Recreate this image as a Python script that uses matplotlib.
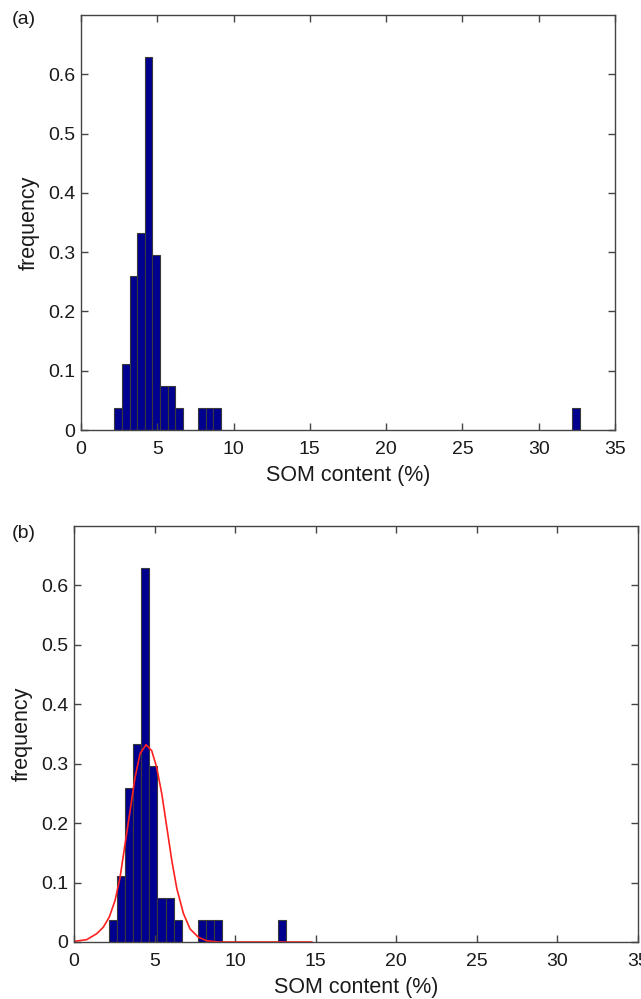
import numpy as np
import matplotlib
matplotlib.use("Agg")
import matplotlib.pyplot as plt

plt.rcParams['font.family'] = ['Liberation Sans', 'DejaVu Sans']

# Histogram bins (left edges, width 0.5) and density heights
bin_width = 0.5
bin_left_a = [2.18, 2.68, 3.18, 3.68, 4.18, 4.68, 5.18, 5.68, 6.18,
              7.68, 8.18, 8.68, 32.18]
freq_a = [0.037, 0.111, 0.259, 0.333, 0.630, 0.296, 0.074, 0.074, 0.037,
          0.037, 0.037, 0.037, 0.037]

bin_left_b = [2.18, 2.68, 3.18, 3.68, 4.18, 4.68, 5.18, 5.68, 6.18,
              7.68, 8.18, 8.68, 12.68]
freq_b = [0.037, 0.111, 0.259, 0.333, 0.630, 0.296, 0.074, 0.074, 0.037,
          0.037, 0.037, 0.037, 0.037]

# Fitted normal curve
curve_x = [0.0, 0.79, 1.41, 1.82, 2.19, 2.55, 2.86, 3.17, 3.48, 3.79, 4.10,
           4.47, 4.82, 5.13, 5.45, 5.76, 6.07, 6.38, 6.79, 7.20, 7.72, 8.24,
           9.0, 10.0, 12.0, 14.76]
curve_y = [0.001, 0.004, 0.014, 0.025, 0.042, 0.070, 0.109, 0.165, 0.221,
           0.277, 0.317, 0.332, 0.322, 0.294, 0.249, 0.193, 0.137, 0.090,
           0.048, 0.022, 0.008, 0.002, 0.0, 0.0, 0.0, 0.0]

xticks = [0, 5, 10, 15, 20, 25, 30, 35]
yticks = [0, 0.1, 0.2, 0.3, 0.4, 0.5, 0.6]
ytick_labels = ['0', '0.1', '0.2', '0.3', '0.4', '0.5', '0.6']

W, H = 641, 999
fig = plt.figure(figsize=(W / 100, H / 100), dpi=100)

def px_axes(l, t, r, b):
    return fig.add_axes([l / W, 1 - b / H, (r - l) / W, (b - t) / H])

ax1 = px_axes(81, 15, 615, 430)
ax2 = px_axes(74, 526, 638, 942)

bar_color = '#00008f'
edge = '#3a3a3a'
spine_c = '#444444'
text_c = '#1a1a1a'

def style(ax):
    ax.set_xlim(0, 35)
    ax.set_ylim(0, 0.7)
    ax.set_xticks(xticks)
    ax.set_xticklabels([str(t) for t in xticks])
    ax.set_yticks(yticks)
    ax.set_yticklabels(ytick_labels)
    ax.tick_params(direction='in', length=5, width=1, colors=spine_c,
                   labelcolor=text_c, labelsize=14, top=True, right=True,
                   pad=4)
    ax.tick_params(axis='x', pad=8)
    for s in ax.spines.values():
        s.set_color(spine_c)
        s.set_linewidth(1.0)
    ax.set_xlabel('SOM content (%)', fontsize=15.5, color=text_c, labelpad=5)
    ax.set_ylabel('frequency', fontsize=15.5, color=text_c, labelpad=6)

ax1.bar(bin_left_a, freq_a, width=bin_width, align='edge', color=bar_color,
        edgecolor=edge, linewidth=0.8)
style(ax1)

ax2.bar(bin_left_b, freq_b, width=bin_width, align='edge', color=bar_color,
        edgecolor=edge, linewidth=0.8)
ax2.plot(curve_x, curve_y, color='#ff2020', linewidth=1.2)
style(ax2)

fig.text(12 / W, 1 - 20 / H, '(a)', fontsize=14, va='center', ha='left', color=text_c)
fig.text(12 / W, 1 - 534 / H, '(b)', fontsize=14, va='center', ha='left', color=text_c)

fig.savefig('out.png', dpi=100)
